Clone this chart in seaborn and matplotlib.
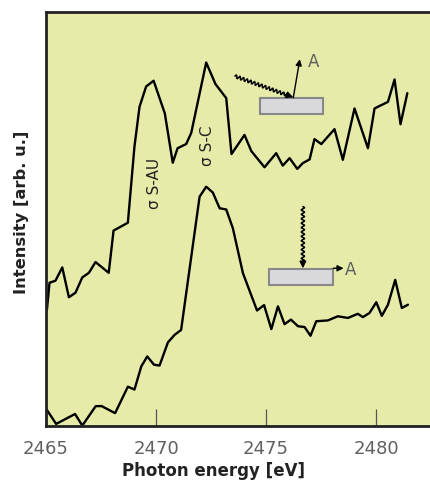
import numpy as np
import pandas as pd
import matplotlib
matplotlib.use("Agg")
import matplotlib.pyplot as plt
import seaborn as sns
from matplotlib.patches import Rectangle

# Photon energy (eV) and intensity (arb. u.) for the two geometries
energy_grazing = [2465.04, 2465.16, 2465.43, 2465.74, 2466.04, 2466.34, 2466.65, 2466.95,
                  2467.25, 2467.85, 2468.07, 2468.72, 2469.02, 2469.25, 2469.55, 2469.89,
                  2470.40, 2470.76, 2470.98, 2471.37, 2471.60, 2472.28, 2472.70, 2473.19,
                  2473.43, 2474.02, 2474.33, 2474.93, 2475.46, 2475.76, 2476.07, 2476.42,
                  2476.67, 2476.98, 2477.20, 2477.51, 2478.11, 2478.49, 2479.02, 2479.63,
                  2479.93, 2480.54, 2480.84, 2481.11, 2481.42]
intensity_grazing = [28.0, 34.6, 35.1, 38.3, 31.1, 32.2, 35.9, 37.0,
                     39.6, 37.0, 47.2, 49.1, 67.5, 77.1, 82.0, 83.4,
                     75.5, 63.6, 67.1, 68.1, 70.8, 87.8, 82.6, 79.2,
                     65.7, 70.3, 66.4, 62.5, 65.9, 62.9, 64.7, 62.1,
                     63.5, 64.4, 69.3, 68.1, 71.7, 64.3, 76.7, 67.1,
                     76.7, 78.3, 83.7, 72.9, 80.4]

energy_normal = [2465.04, 2465.46, 2466.32, 2466.65, 2467.26, 2467.53, 2468.14, 2468.72,
                 2469.02, 2469.33, 2469.60, 2469.91, 2470.16, 2470.54, 2470.84, 2471.14,
                 2471.98, 2472.28, 2472.58, 2472.89, 2473.19, 2473.49, 2473.95, 2474.59,
                 2474.91, 2475.24, 2475.54, 2475.84, 2476.13, 2476.45, 2476.75, 2477.02,
                 2477.28, 2477.81, 2478.26, 2478.72, 2479.17, 2479.40, 2479.70, 2480.01,
                 2480.26, 2480.54, 2480.87, 2481.17, 2481.45]
intensity_normal = [3.9, 0.5, 2.9, 0.1, 4.8, 4.8, 3.1, 9.5,
                    8.8, 14.4, 16.8, 14.8, 14.6, 20.2, 22.0, 23.2,
                    55.4, 57.8, 56.4, 52.6, 52.3, 47.8, 36.9, 27.9,
                    29.2, 23.4, 28.9, 24.6, 25.7, 24.1, 23.9, 21.8,
                    25.3, 25.5, 26.5, 26.1, 27.1, 26.3, 27.3, 29.9,
                    26.6, 29.3, 35.3, 28.5, 29.3]

x_ticks = [2465, 2470, 2475, 2480]
peak_labels = ["σ S-AU", "σ S-C"]
peak_label_pos = [(2469.93, 58.5), (2472.34, 67.6)]

sns.set_style("white")
plt.rcParams["font.family"] = ["DejaVu Sans"]

fig = plt.figure(figsize=(4.30, 4.86), dpi=100)
ax = fig.add_axes([46 / 430, 60 / 486, 384 / 430, 414 / 486])
ax.set_facecolor("#e6eba9")

df_g = pd.DataFrame({"energy": energy_grazing, "intensity": intensity_grazing})
df_n = pd.DataFrame({"energy": energy_normal, "intensity": intensity_normal})
sns.lineplot(data=df_g, x="energy", y="intensity", ax=ax, color="black", lw=1.7,
             sort=False, estimator=None)
sns.lineplot(data=df_n, x="energy", y="intensity", ax=ax, color="black", lw=1.7,
             sort=False, estimator=None)

ax.set_xlim(2465, 2482.45)
ax.set_ylim(0, 100)
ax.set_yticks([])
ax.set_xticks(x_ticks)
ax.set_xticklabels([str(t) for t in x_ticks], color="#606060", fontsize=13)
ax.tick_params(axis="x", direction="in", length=12, width=0.9, color="#555555", pad=10,
               bottom=True)

for side in ["left", "bottom", "top"]:
    ax.spines[side].set_visible(True)
    ax.spines[side].set_linewidth(2.0)
    ax.spines[side].set_color("#222222")
ax.spines["right"].set_visible(False)

ax.set_xlabel("Photon energy [eV]", fontsize=12, fontweight="bold", color="#222222")
ax.xaxis.set_label_coords(0.4375, -0.088)
ax.xaxis.label.set_va("top")
ax.set_ylabel("Intensity [arb. u.]", fontsize=11.8, fontweight="bold", color="#222222")
ax.yaxis.set_label_coords(-0.0625, 0.517)
ax.yaxis.label.set_va("center")

for text, (ex, iy) in zip(peak_labels, peak_label_pos):
    ax.text(ex, iy, text, rotation=90, ha="center", va="center", fontsize=11,
            color="#222222")


def wavy_arrow(ax, start, end, cycles, amp_px=1.6):
    """Draw a wavy line with an arrowhead from start to end (axes fraction)."""
    p0 = ax.transAxes.transform(start)
    p1 = ax.transAxes.transform(end)
    d = p1 - p0
    length = np.hypot(*d)
    u = d / length
    nrm = np.array([-u[1], u[0]])
    t = np.linspace(0, 1, 500)
    tt = t[t <= 1 - 7 / length]
    pts = p0[None, :] + np.outer(tt * length, u) + np.outer(
        amp_px * np.sin(2 * np.pi * cycles * tt), nrm)
    pts_ax = ax.transAxes.inverted().transform(pts)
    ax.plot(pts_ax[:, 0], pts_ax[:, 1], transform=ax.transAxes, color="black", lw=1.1,
            clip_on=False)
    tail = ax.transAxes.inverted().transform(p1 - 8 * u)
    ax.annotate("", xy=end, xytext=tail, xycoords="axes fraction",
                textcoords="axes fraction",
                arrowprops=dict(arrowstyle="-|>", color="black", lw=1.0,
                                mutation_scale=10, shrinkA=0, shrinkB=0))


def straight_arrow(ax, start, end):
    ax.annotate("", xy=end, xytext=start, xycoords="axes fraction",
                textcoords="axes fraction",
                arrowprops=dict(arrowstyle="-|>", color="black", lw=1.0,
                                mutation_scale=9, shrinkA=0, shrinkB=0))


# Sample sketch: grazing incidence, emission out of plane
ax.add_patch(Rectangle((0.557, 0.754), 0.165, 0.039, transform=ax.transAxes,
                       facecolor="#d9d9dc", edgecolor="#888888", lw=1.5, zorder=3))
wavy_arrow(ax, (0.492, 0.845), (0.644, 0.794), cycles=16)
straight_arrow(ax, (0.644, 0.793), (0.661, 0.886))
ax.text(0.683, 0.880, "A", transform=ax.transAxes, ha="left", va="center",
        fontsize=12, color="#606060")

# Sample sketch: normal incidence, emission in plane
ax.add_patch(Rectangle((0.581, 0.341), 0.167, 0.038, transform=ax.transAxes,
                       facecolor="#d9d9dc", edgecolor="#888888", lw=1.5, zorder=3))
wavy_arrow(ax, (0.669, 0.530), (0.669, 0.381), cycles=14)
straight_arrow(ax, (0.748, 0.381), (0.775, 0.381))
ax.text(0.779, 0.377, "A", transform=ax.transAxes, ha="left", va="center",
        fontsize=12, color="#606060")

fig.savefig("out.png", dpi=100)
